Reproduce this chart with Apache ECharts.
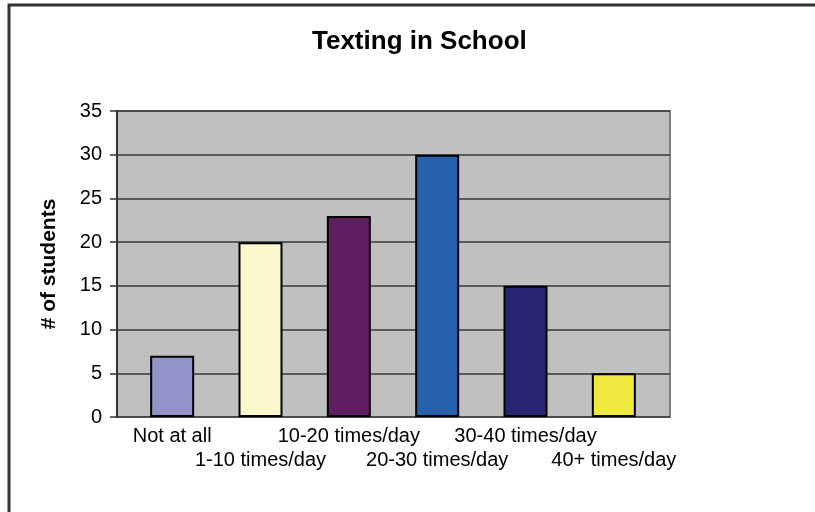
<!DOCTYPE html>
<html>
<head>
<meta charset="utf-8">
<script src="https://cdn.jsdelivr.net/npm/echarts@6/dist/echarts.min.js"></script>
<style>
  html, body { margin: 0; padding: 0; background: #fff; }
  #main { width: 815px; height: 512px; }
</style>
</head>
<body>
<div id="main"></div>
<script>
// data
var categories = ['Not at all', '1-10 times/day', '10-20 times/day', '20-30 times/day', '30-40 times/day', '40+ times/day'];
var students = [7, 20, 23, 30, 15, 5];
var barColors = ['#9393C9', '#FAF7CD', '#5F1E5F', '#2561AC', '#262671', '#F0EA40'];
var yTicks = [0, 5, 10, 15, 20, 25, 30, 35];

var chart = echarts.init(document.getElementById('main'));

var fontName = 'Liberation Sans, Arial, sans-serif';

var option = {
  animation: false,
  backgroundColor: '#fff',
  title: {
    text: 'Texting in School',
    left: 307,
    top: 24,
    textStyle: { fontFamily: fontName, fontSize: 26, fontWeight: 'bold', color: '#000' }
  },
  graphic: [{
    type: 'rect',
    shape: { x: 9, y: 5, width: 900, height: 600 },
    style: { fill: null, stroke: '#333', lineWidth: 3 },
    silent: true
  }],
  grid: [
    { left: 117, right: 145, top: 111, bottom: 95, show: true, backgroundColor: '#C0C0C0', borderColor: '#808080', borderWidth: 2 },
    { left: 128, right: 157, top: 111, bottom: 95 }
  ],
  xAxis: [
    { type: 'category', gridIndex: 0, data: categories, show: false },
    {
      type: 'category',
      gridIndex: 1,
      data: categories,
      axisLine: { show: false },
      axisTick: { show: false },
      axisLabel: {
        interval: 0,
        margin: 7,
        fontFamily: fontName,
        fontSize: 20,
        lineHeight: 24,
        color: '#000',
        formatter: function (v, i) { return i % 2 === 1 ? '\n' + v : v; }
      }
    }
  ],
  yAxis: [
    {
      type: 'value',
      gridIndex: 0,
      min: 0,
      max: 35,
      interval: 5,
      name: '# of students',
      nameLocation: 'middle',
      nameGap: 57,
      nameTextStyle: { fontFamily: fontName, fontSize: 21, fontWeight: 'bold', color: '#000' },
      axisLine: { show: true, lineStyle: { color: '#333', width: 2 } },
      axisTick: { show: true, length: 7, lineStyle: { color: '#333', width: 1.5 } },
      axisLabel: {
        margin: 15,
        fontFamily: fontName,
        fontSize: 20,
        color: '#000',
        formatter: function (v) { return yTicks.indexOf(v) >= 0 ? String(v) : ''; }
      },
      splitLine: { show: true, lineStyle: { color: '#3a3a3a', width: 1.5 } }
    },
    { type: 'value', gridIndex: 1, min: 0, max: 35, interval: 5, show: false }
  ],
  series: [{
    type: 'bar',
    xAxisIndex: 1,
    yAxisIndex: 1,
    barWidth: 44,
    data: students.map(function (v, i) {
      return { value: v, itemStyle: { color: barColors[i] } };
    }),
    itemStyle: { borderColor: '#000', borderWidth: 2 }
  }]
};

chart.setOption(option);
</script>
</body>
</html>
